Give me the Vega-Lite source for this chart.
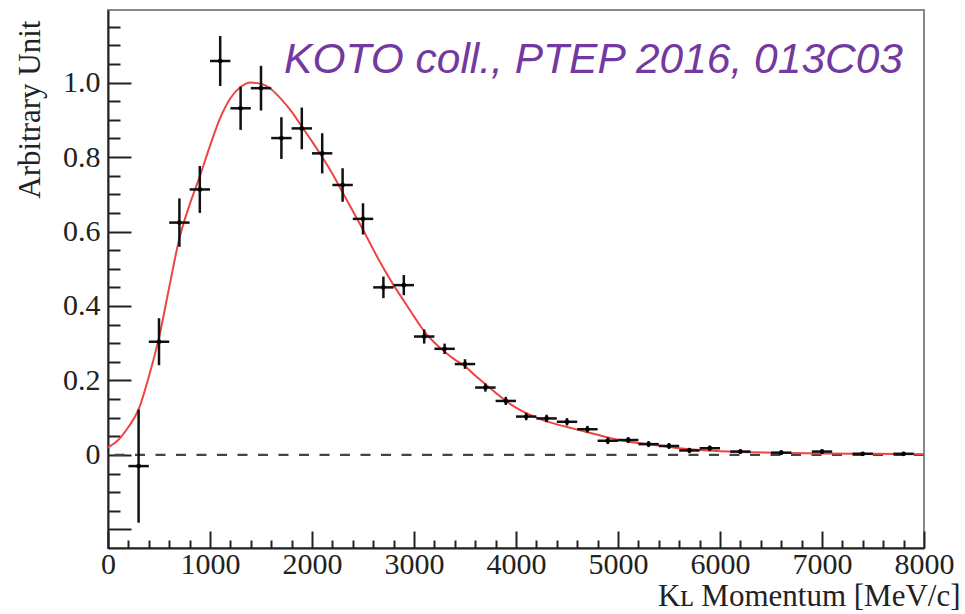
{
  "$schema": "https://vega.github.io/schema/vega-lite/v6.json",
  "width": 816,
  "height": 538,
  "autosize": "none",
  "padding": {"left": 108, "top": 10, "right": 41, "bottom": 66},
  "background": "white",
  "title": {
    "text": "KOTO coll., PTEP 2016, 013C03",
    "font": "Liberation Sans",
    "fontStyle": "italic",
    "fontWeight": "normal",
    "fontSize": 42.5,
    "color": "#7339A0",
    "anchor": "end",
    "frame": "group",
    "orient": "top",
    "baseline": "alphabetic",
    "offset": 0,
    "dx": -21,
    "dy": 105
  },
  "config": {
    "view": {"stroke": "#888888", "strokeWidth": 2},
    "axis": {
      "grid": false,
      "domainColor": "#222222",
      "domainWidth": 2,
      "tickColor": "#222222",
      "tickWidth": 2,
      "labelFont": "Liberation Serif",
      "labelFontSize": 30,
      "labelColor": "#222222",
      "titleFont": "Liberation Serif",
      "titleFontSize": 31,
      "titleFontWeight": "normal",
      "titleColor": "#222222",
      "labelOverlap": false,
      "labelFlush": false,
      "labelBound": false
    }
  },
  "resolve": {"axis": {"x": "independent", "y": "independent"}},
  "datasets": {
    "pts": [
      {"p": 300, "v": -0.03, "lo": -0.182, "hi": 0.122, "pl": 200, "ph": 400},
      {"p": 500, "v": 0.304, "lo": 0.241, "hi": 0.367, "pl": 400, "ph": 600},
      {"p": 700, "v": 0.624, "lo": 0.559, "hi": 0.689, "pl": 600, "ph": 800},
      {"p": 900, "v": 0.713, "lo": 0.65, "hi": 0.776, "pl": 800, "ph": 1000},
      {"p": 1100, "v": 1.058, "lo": 0.991, "hi": 1.125, "pl": 1000, "ph": 1200},
      {"p": 1300, "v": 0.931, "lo": 0.873, "hi": 0.989, "pl": 1200, "ph": 1400},
      {"p": 1500, "v": 0.985, "lo": 0.925, "hi": 1.045, "pl": 1400, "ph": 1600},
      {"p": 1700, "v": 0.851, "lo": 0.795, "hi": 0.907, "pl": 1600, "ph": 1800},
      {"p": 1900, "v": 0.877, "lo": 0.821, "hi": 0.933, "pl": 1800, "ph": 2000},
      {"p": 2100, "v": 0.81, "lo": 0.756, "hi": 0.864, "pl": 2000, "ph": 2200},
      {"p": 2300, "v": 0.725, "lo": 0.68, "hi": 0.77, "pl": 2200, "ph": 2400},
      {"p": 2500, "v": 0.634, "lo": 0.592, "hi": 0.676, "pl": 2400, "ph": 2600},
      {"p": 2700, "v": 0.45, "lo": 0.421, "hi": 0.479, "pl": 2600, "ph": 2800},
      {"p": 2900, "v": 0.456, "lo": 0.429, "hi": 0.483, "pl": 2800, "ph": 3000},
      {"p": 3100, "v": 0.318, "lo": 0.299, "hi": 0.337, "pl": 3000, "ph": 3200},
      {"p": 3300, "v": 0.285, "lo": 0.271, "hi": 0.299, "pl": 3200, "ph": 3400},
      {"p": 3500, "v": 0.244, "lo": 0.231, "hi": 0.257, "pl": 3400, "ph": 3600},
      {"p": 3700, "v": 0.181, "lo": 0.17, "hi": 0.192, "pl": 3600, "ph": 3800},
      {"p": 3900, "v": 0.145, "lo": 0.134, "hi": 0.156, "pl": 3800, "ph": 4000},
      {"p": 4100, "v": 0.103, "lo": 0.093, "hi": 0.113, "pl": 4000, "ph": 4200},
      {"p": 4300, "v": 0.098, "lo": 0.088, "hi": 0.108, "pl": 4200, "ph": 4400},
      {"p": 4500, "v": 0.089, "lo": 0.079, "hi": 0.099, "pl": 4400, "ph": 4600},
      {"p": 4700, "v": 0.069, "lo": 0.06, "hi": 0.078, "pl": 4600, "ph": 4800},
      {"p": 4900, "v": 0.038, "lo": 0.029, "hi": 0.047, "pl": 4800, "ph": 5000},
      {"p": 5100, "v": 0.04, "lo": 0.032, "hi": 0.048, "pl": 5000, "ph": 5200},
      {"p": 5300, "v": 0.029, "lo": 0.021, "hi": 0.037, "pl": 5200, "ph": 5400},
      {"p": 5500, "v": 0.024, "lo": 0.016, "hi": 0.032, "pl": 5400, "ph": 5600},
      {"p": 5700, "v": 0.012, "lo": 0.005, "hi": 0.019, "pl": 5600, "ph": 5800},
      {"p": 5900, "v": 0.018, "lo": 0.011, "hi": 0.025, "pl": 5800, "ph": 6000},
      {"p": 6200, "v": 0.009, "lo": 0.003, "hi": 0.015, "pl": 6100, "ph": 6300},
      {"p": 6600, "v": 0.006, "lo": 0.0, "hi": 0.012, "pl": 6500, "ph": 6700},
      {"p": 7000, "v": 0.009, "lo": 0.003, "hi": 0.015, "pl": 6900, "ph": 7100},
      {"p": 7400, "v": 0.003, "lo": -0.002, "hi": 0.008, "pl": 7300, "ph": 7500},
      {"p": 7800, "v": 0.003, "lo": -0.002, "hi": 0.008, "pl": 7700, "ph": 7900}
    ],
    "fit": [
      {"p": 0, "f": 0.02}, {"p": 100, "f": 0.04}, {"p": 200, "f": 0.075},
      {"p": 300, "f": 0.122}, {"p": 400, "f": 0.21}, {"p": 500, "f": 0.315},
      {"p": 600, "f": 0.45}, {"p": 700, "f": 0.582}, {"p": 800, "f": 0.672},
      {"p": 900, "f": 0.748}, {"p": 1000, "f": 0.83}, {"p": 1100, "f": 0.905},
      {"p": 1200, "f": 0.958}, {"p": 1300, "f": 0.988}, {"p": 1400, "f": 1.0},
      {"p": 1500, "f": 0.997}, {"p": 1600, "f": 0.982}, {"p": 1700, "f": 0.955},
      {"p": 1800, "f": 0.922}, {"p": 1900, "f": 0.882}, {"p": 2000, "f": 0.842},
      {"p": 2100, "f": 0.8}, {"p": 2200, "f": 0.755}, {"p": 2300, "f": 0.705},
      {"p": 2400, "f": 0.655}, {"p": 2500, "f": 0.605}, {"p": 2600, "f": 0.552},
      {"p": 2700, "f": 0.502}, {"p": 2800, "f": 0.456}, {"p": 2900, "f": 0.414},
      {"p": 3000, "f": 0.372}, {"p": 3100, "f": 0.332}, {"p": 3200, "f": 0.302},
      {"p": 3300, "f": 0.277}, {"p": 3400, "f": 0.256}, {"p": 3500, "f": 0.238},
      {"p": 3600, "f": 0.213}, {"p": 3700, "f": 0.19}, {"p": 3800, "f": 0.167},
      {"p": 3900, "f": 0.145}, {"p": 4000, "f": 0.127}, {"p": 4100, "f": 0.112},
      {"p": 4200, "f": 0.1}, {"p": 4300, "f": 0.09}, {"p": 4400, "f": 0.082},
      {"p": 4500, "f": 0.075}, {"p": 4600, "f": 0.068}, {"p": 4700, "f": 0.061},
      {"p": 4800, "f": 0.054}, {"p": 4900, "f": 0.047}, {"p": 5000, "f": 0.041},
      {"p": 5200, "f": 0.032}, {"p": 5400, "f": 0.025}, {"p": 5600, "f": 0.018},
      {"p": 5800, "f": 0.013}, {"p": 6000, "f": 0.01}, {"p": 6500, "f": 0.006},
      {"p": 7000, "f": 0.004}, {"p": 7500, "f": 0.003}, {"p": 8000, "f": 0.002}
    ]
  },
  "layer": [
    {
      "data": {"values": [{}]},
      "mark": {"type": "rule", "color": "#444444", "strokeWidth": 2.2, "strokeDash": [10, 10.5]},
      "encoding": {
        "y": {
          "datum": 0,
          "type": "quantitative",
          "scale": {"domain": [-0.25, 1.195], "nice": false, "zero": false},
          "axis": {
            "orient": "left",
            "title": "Arbitrary Unit",
            "titleAngle": -90,
            "titleX": -78,
            "titleY": 10,
            "titleAlign": "right",
            "titleBaseline": "middle",
            "values": [-0.2, 0, 0.2, 0.4, 0.6, 0.8, 1.0],
            "tickSize": -23,
            "labelExpr": "datum.value < -0.1 ? '' : (datum.value == 0 ? '0' : format(datum.value, '.1f'))",
            "labelPadding": 31,
            "labelOverlap": false
          }
        }
      }
    },
    {
      "data": {"name": "fit"},
      "mark": {"type": "line", "color": "#EE4444", "strokeWidth": 2, "clip": true, "interpolate": "monotone"},
      "encoding": {
        "x": {
          "field": "p",
          "type": "quantitative",
          "scale": {"domain": [0, 8000], "nice": false, "zero": false},
          "axis": {
            "orient": "bottom",
            "title": "Kʟ Momentum [MeV/c]",
            "titleX": 852,
            "titleY": 57,
            "titleAlign": "right",
            "titleBaseline": "alphabetic",
            "values": [0, 1000, 2000, 3000, 4000, 5000, 6000, 7000, 8000],
            "tickSize": -17,
            "format": "d",
            "labelPadding": 18,
            "labelOverlap": false
          }
        },
        "y": {"field": "f", "type": "quantitative", "axis": null}
      }
    },
    {
      "data": {"name": "pts"},
      "mark": {"type": "rule", "color": "#111111", "strokeWidth": 2.5},
      "encoding": {
        "x": {"field": "p", "type": "quantitative", "axis": null},
        "y": {"field": "lo", "type": "quantitative", "axis": null},
        "y2": {"field": "hi"}
      }
    },
    {
      "data": {"name": "pts"},
      "mark": {"type": "rule", "color": "#111111", "strokeWidth": 2.5},
      "encoding": {
        "x": {"field": "pl", "type": "quantitative", "axis": null},
        "x2": {"field": "ph"},
        "y": {"field": "v", "type": "quantitative", "axis": null}
      }
    },
    {
      "data": {"name": "pts"},
      "mark": {"type": "point", "filled": true, "color": "#000000", "size": 22, "opacity": 1},
      "encoding": {
        "x": {
          "field": "p",
          "type": "quantitative",
          "axis": {
            "orient": "bottom",
            "title": null,
            "labels": false,
            "domain": false,
            "tickSize": -8,
            "values": [200, 400, 600, 800, 1200, 1400, 1600, 1800, 2200, 2400, 2600, 2800, 3200, 3400, 3600, 3800, 4200, 4400, 4600, 4800, 5200, 5400, 5600, 5800, 6200, 6400, 6600, 6800, 7200, 7400, 7600, 7800]
          }
        },
        "y": {
          "field": "v",
          "type": "quantitative",
          "axis": {
            "orient": "left",
            "title": null,
            "labels": false,
            "domain": false,
            "tickSize": -12,
            "values": [-0.15, -0.1, -0.05, 0.05, 0.1, 0.15, 0.25, 0.3, 0.35, 0.45, 0.5, 0.55, 0.65, 0.7, 0.75, 0.85, 0.9, 0.95, 1.05, 1.1, 1.15]
          }
        }
      }
    }
  ]
}
